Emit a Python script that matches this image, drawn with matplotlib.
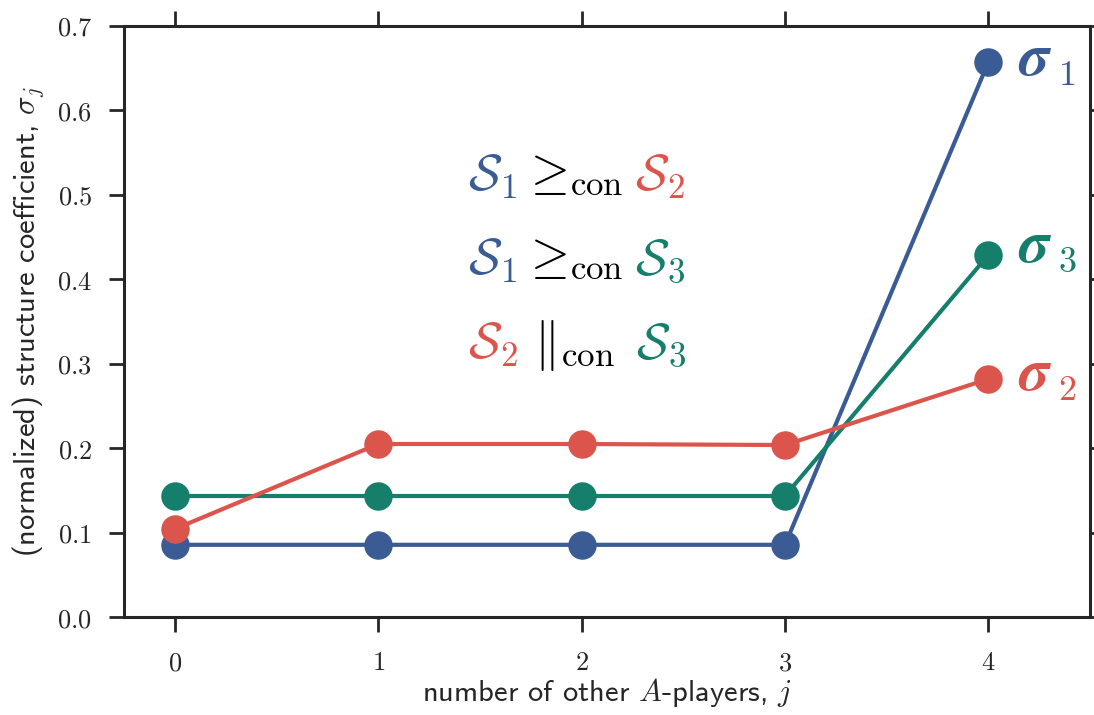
import numpy as np
import matplotlib
matplotlib.use("Agg")
import matplotlib.pyplot as plt
from matplotlib.ticker import FuncFormatter

plt.rcParams['mathtext.fontset'] = 'cm'
plt.rcParams['axes.unicode_minus'] = False

# data
j_vals = [0, 1, 2, 3, 4]
sigma1 = [0.0855, 0.0855, 0.0855, 0.0855, 0.657]
sigma2 = [0.1042, 0.2049, 0.2049, 0.2037, 0.2819]
sigma3 = [0.1433, 0.1433, 0.1433, 0.1433, 0.4288]
yticks = [0.0, 0.1, 0.2, 0.3, 0.4, 0.5, 0.6, 0.7]

c_blue = '#3B5B94'
c_red = '#DC554D'
c_green = '#157F6C'
c_dark = '#262626'

W, H = 1094, 715
fig = plt.figure(figsize=(W / 100, H / 100), dpi=100)
ax = fig.add_axes([124 / W, 1 - 617 / H, (1090 - 124) / W, (617 - 26) / H])

for ys, c in [(sigma1, c_blue), (sigma3, c_green), (sigma2, c_red)]:
    ax.plot(j_vals, ys, color=c, lw=3, marker='o', ms=19.5, mec=c, mfc=c)

ax.set_xlim(-0.25, 4.5)
ax.set_ylim(0, 0.7)
ax.set_xticks(j_vals)
ax.set_yticks(yticks)
ax.xaxis.set_major_formatter(FuncFormatter(lambda v, p: r'$%d$' % v))
ax.yaxis.set_major_formatter(FuncFormatter(lambda v, p: r'$%.1f$' % v))

for s in ax.spines.values():
    s.set_linewidth(2.2)
    s.set_color(c_dark)
ax.tick_params(direction='out', length=11, width=2, color=c_dark,
               labelsize=19, labelcolor=c_dark, top=True, right=True)
ax.tick_params(axis='y', pad=12)
ax.tick_params(axis='x', pad=13)

ax.set_xlabel(r'number of other $A$-players, $j$', fontsize=22,
              family='cmss10', color=c_dark, labelpad=0)
ax.set_ylabel(r'(normalized) structure coefficient, $\sigma_j$', fontsize=22,
              family='cmss10', color=c_dark, labelpad=8)

# relation annotations, built piece by piece for the colours
def px(x, y, s, c, size=36):
    fig.text(x / W, 1 - y / H, s, color=c, fontsize=size, ha='left', va='baseline')

for yb, rhs, rc in [(190, r'$\mathcal{S}_2$', c_red), (274, r'$\mathcal{S}_3$', c_green)]:
    px(468, yb, r'$\mathcal{S}_1$', c_blue)
    px(522, yb - 2, r'$\geq$', 'black')
    px(570, yb + 5, r'$\mathrm{con}$', 'black', size=25)
    px(635, yb, rhs, rc)

px(468, 358, r'$\mathcal{S}_2$', c_red)
px(534, 358, r'$\Vert_{\rm con}$', 'black')
px(636, 358, r'$\mathcal{S}_3$', c_green)

# bold sigma labels at the right end
for yb, num, c in [(75, '1', c_blue), (262, '3', c_green), (390, '2', c_red)]:
    fig.text(1018 / W, 1 - yb / H, u'\u03c3', family='STIXGeneral', weight='bold',
             style='italic', fontsize=43, color=c, ha='left', va='baseline')
    fig.text(1058 / W, 1 - (yb + 10) / H, r'$%s$' % num, fontsize=26, color=c,
             ha='left', va='baseline')

fig.savefig('out.png', dpi=100)
